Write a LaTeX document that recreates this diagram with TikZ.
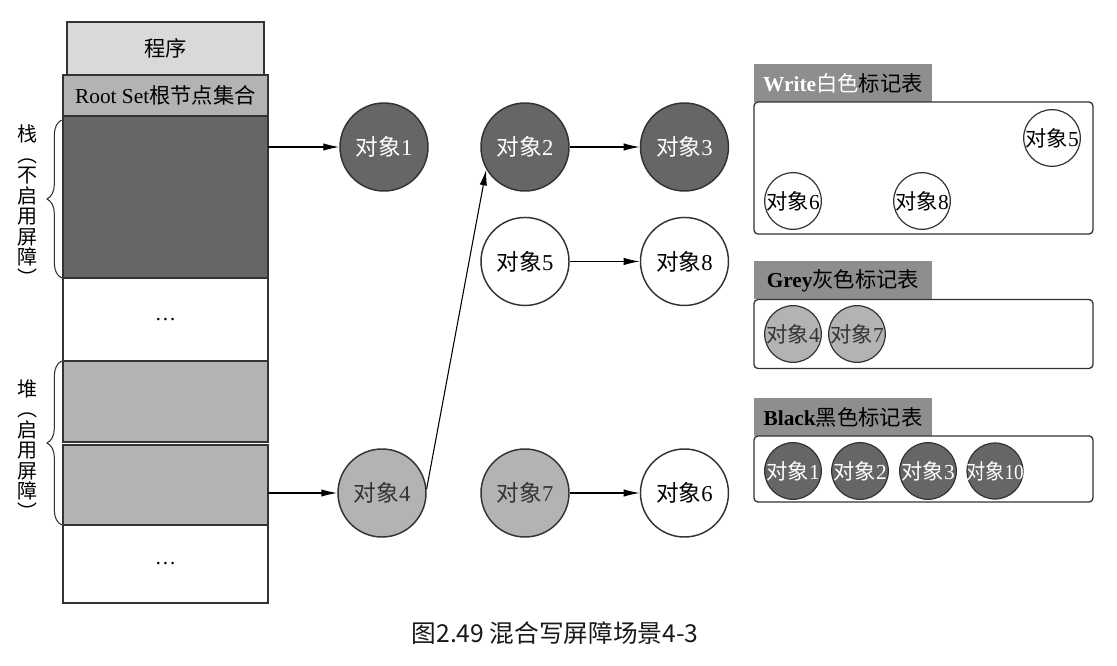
\documentclass[tikz,border=0pt]{standalone}
\usepackage{fontspec}
\setmainfont{Liberation Serif}
\newfontfamily\cjk{Noto Sans CJK SC}
\usetikzlibrary{arrows.meta, positioning, decorations.pathreplacing}

\definecolor{objblack}{HTML}{666666}
\definecolor{objgrey}{HTML}{B3B3B3}
\definecolor{proglight}{HTML}{D9D9D9}
\definecolor{tabgrey}{HTML}{8E8E8E}
\definecolor{edge}{HTML}{333333}

\newcommand{\dx}[1]{{\cjk 对象}#1}

\tikzset{
  obj/.style={circle, draw=edge, line width=1.1pt, minimum size=66pt, inner sep=0pt, font=\fontsize{17pt}{18pt}\selectfont},
  objs/.style={circle, draw=edge, line width=0.9pt, minimum size=42pt, inner sep=0pt},
  mem/.style={rectangle, draw=edge, line width=1.1pt, minimum width=153.75pt, outer sep=0pt},
  tabhead/.style={rectangle, fill=tabgrey, minimum width=133.5pt, minimum height=28.5pt, outer sep=0pt},
  marktable/.style={rectangle, draw=edge, rounded corners=3pt, line width=1pt, minimum width=254.25pt, outer sep=0pt},
  vtext/.style={align=center, inner sep=0pt, font=\cjk\fontsize{15pt}{15.4pt}\selectfont},
}

\begin{document}
\begin{tikzpicture}[x=0.75pt, y=-0.75pt, font=\fontsize{16pt}{18pt}\selectfont, >={Latex[length=12pt,width=5.5pt]}]

\useasboundingbox (0,0) rectangle (1117,666);

\node[mem, fill=proglight, minimum width=147.75pt, minimum height=39.75pt] (prog) at (165.5,48.5) {\cjk 程序};
\node[mem, fill=objgrey, minimum height=30.75pt, below=0pt of prog] (rootset) {Root Set{\cjk 根节点集合}};
\node[mem, fill=objblack, minimum height=121.5pt, below=0pt of rootset] (stack) {};
\node[mem, fill=white, minimum height=62.25pt, below=0pt of stack] (gap1) {\dots};
\node[mem, fill=objgrey, minimum height=60.75pt, below=0pt of gap1] (heap1) {};
\node[mem, fill=objgrey, minimum height=60pt, below=2.25pt of heap1] (heap2) {};
\node[mem, fill=white, minimum height=58.5pt, below=0pt of heap2] (gap2) {\dots};

\draw[decorate, decoration={brace, amplitude=11pt}, line width=0.8pt, edge] ([xshift=-1pt]stack.south west) -- ([xshift=-1pt, yshift=-3pt]stack.north west);
\draw[decorate, decoration={brace, amplitude=11pt}, line width=0.8pt, edge] ([xshift=-1pt]heap2.south west) -- ([xshift=-1pt]heap1.north west);
\node[vtext] (stacknote) at (27,205) {栈\\︵\\不\\启\\用\\屏\\障\\︶};
\node[vtext] (heapnote) at (27,449.5) {堆\\︵\\启\\用\\屏\\障\\︶};

\node[obj, fill=objblack, text=white] (obj1) at (384,147) {\dx1};
\node[obj, fill=objblack, text=white] (obj2) at (525,147) {\dx2};
\node[obj, fill=objblack, text=white, right=52.5pt of obj2] (obj3) {\dx3};
\node[obj, fill=white, below=18.75pt of obj2] (obj5) {\dx5};
\node[obj, fill=white, right=52.5pt of obj5] (obj8) {\dx8};
\node[obj, fill=objgrey, text=edge] (obj4) at (382,493) {\dx4};
\node[obj, fill=objgrey, text=edge] (obj7) at (525,493) {\dx7};
\node[obj, fill=white, right=52.5pt of obj7] (obj6) {\dx6};

\draw[->, line width=0.8pt] (stack.east |- obj1) -- (obj1);
\draw[->, line width=0.8pt] (heap2.east |- obj4) -- (obj4);
\draw[->, line width=0.8pt] (obj4.5) -- (obj2.210);
\draw[->, line width=0.8pt] (obj2) -- (obj3);
\draw[->, line width=0.8pt] (obj5) -- (obj8);
\draw[->, line width=0.8pt] (obj7) -- (obj6);

% mark tables
\node[tabhead, text=white] (whitetab) at (843,83) {\textbf{Write}{\cjk 白色}\textcolor{black}{\cjk 标记表}};
\node[marktable, minimum height=99pt, below right=0pt of whitetab.south west] (whitetable) {};
\node[objs, fill=white] (w5) at (1052,138) {\dx5};
\node[objs, fill=white] (w6) at (793,201) {\dx6};
\node[objs, fill=white] (w8) at (922,201) {\dx8};

\node[tabhead] (greytab) at (843,280.5) {\textbf{Grey}{\cjk 灰色标记表}};
\node[marktable, minimum height=51.75pt, below right=0pt of greytab.south west] (greytable) {};
\node[objs, fill=objgrey, text=edge] (g4) at (793,334) {\dx4};
\node[objs, fill=objgrey, text=edge] (g7) at (857,334) {\dx7};

\node[tabhead] (blacktab) at (843,417) {\textbf{Black}{\cjk 黑色标记表}};
\node[marktable, minimum height=49.5pt, below right=0pt of blacktab.south west] (blacktable) {};
\node[objs, fill=objblack, text=white] (b1) at (793,471) {\dx1};
\node[objs, fill=objblack, text=white] (b2) at (860,471) {\dx2};
\node[objs, fill=objblack, text=white] (b3) at (928,471) {\dx3};
\node[objs, fill=objblack, text=white] (b10) at (995,471) {\makebox[30pt]{\scalebox{0.9}[1]{\dx{10}}}};

\node[font=\cjk\fontsize{18.5pt}{20pt}\selectfont, text=black!90] (caption) at (555,633) {图2.49 混合写屏障场景4-3};
\end{tikzpicture}
\end{document}
